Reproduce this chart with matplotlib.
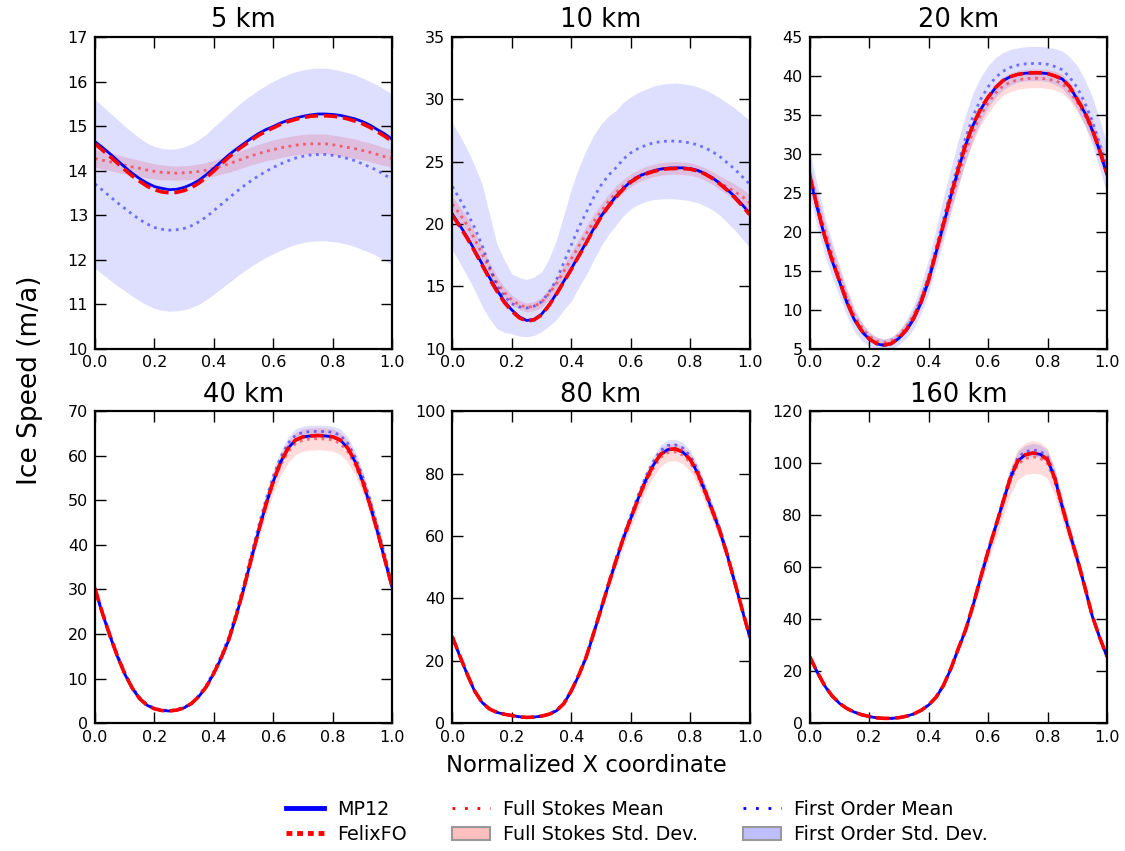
import numpy as np
import matplotlib.pyplot as plt
from matplotlib.lines import Line2D
from matplotlib.patches import Patch

x = [0.0, 0.025, 0.05, 0.075, 0.1, 0.125, 0.15, 0.175, 0.2, 0.225, 0.25,
     0.275, 0.3, 0.325, 0.35, 0.375, 0.4, 0.425, 0.45, 0.475, 0.5,
     0.525, 0.55, 0.575, 0.6, 0.625, 0.65, 0.675, 0.7, 0.725, 0.75,
     0.775, 0.8, 0.825, 0.85, 0.875, 0.9, 0.925, 0.95, 0.975, 1.0]

titles = ["5 km", "10 km", "20 km", "40 km", "80 km", "160 km"]

# 5 km
mp12_5 = [14.65, 14.52, 14.38, 14.23, 14.08, 13.94, 13.82, 13.72, 13.64, 13.6, 13.57,
          13.58, 13.62, 13.69, 13.78, 13.91, 14.05, 14.2, 14.35, 14.48, 14.6,
          14.72, 14.83, 14.92, 14.99, 15.07, 15.13, 15.18, 15.22, 15.25, 15.27,
          15.27, 15.26, 15.24, 15.2, 15.16, 15.1, 15.02, 14.92, 14.82, 14.7]
felix_5 = [14.6, 14.46, 14.32, 14.17, 14.02, 13.88, 13.76, 13.65, 13.57, 13.52, 13.5,
           13.51, 13.55, 13.62, 13.72, 13.85, 13.99, 14.15, 14.3, 14.44, 14.56,
           14.68, 14.79, 14.88, 14.96, 15.04, 15.1, 15.15, 15.19, 15.22, 15.23,
           15.23, 15.22, 15.2, 15.16, 15.11, 15.05, 14.97, 14.87, 14.77, 14.65]
fs_mean_5 = [14.27, 14.23, 14.2, 14.16, 14.12, 14.08, 14.05, 14.01, 13.98, 13.96, 13.95,
             13.94, 13.95, 13.96, 13.98, 14.01, 14.05, 14.1, 14.15, 14.21, 14.27,
             14.33, 14.38, 14.43, 14.47, 14.51, 14.54, 14.57, 14.59, 14.6, 14.6,
             14.6, 14.58, 14.55, 14.52, 14.49, 14.45, 14.41, 14.36, 14.31, 14.27]
fs_std_5 = [0.2, 0.2, 0.2, 0.2, 0.19, 0.19, 0.18, 0.18, 0.17, 0.17, 0.16,
            0.16, 0.16, 0.16, 0.17, 0.17, 0.18, 0.18, 0.19, 0.2, 0.2,
            0.2, 0.21, 0.21, 0.22, 0.22, 0.22, 0.22, 0.22, 0.22, 0.22,
            0.22, 0.22, 0.22, 0.22, 0.22, 0.21, 0.21, 0.21, 0.2, 0.2]
fo_mean_5 = [13.7, 13.56, 13.42, 13.28, 13.15, 13.02, 12.9, 12.8, 12.72, 12.68, 12.66,
             12.67, 12.7, 12.76, 12.85, 12.96, 13.1, 13.24, 13.38, 13.52, 13.65,
             13.77, 13.88, 13.98, 14.07, 14.15, 14.22, 14.28, 14.32, 14.35, 14.36,
             14.36, 14.34, 14.31, 14.27, 14.22, 14.15, 14.08, 14.0, 13.9, 13.8]
fo_std_5 = [1.9, 1.89, 1.88, 1.87, 1.85, 1.84, 1.83, 1.82, 1.82, 1.82, 1.82,
            1.82, 1.83, 1.84, 1.85, 1.86, 1.88, 1.89, 1.9, 1.91, 1.92,
            1.92, 1.93, 1.93, 1.94, 1.94, 1.94, 1.94, 1.94, 1.94, 1.94,
            1.94, 1.94, 1.93, 1.93, 1.93, 1.93, 1.92, 1.92, 1.92, 1.92]

# 10 km
mp12_10 = [20.8, 19.9, 18.95, 17.9, 16.8, 15.7, 14.7, 13.8, 13.1, 12.55, 12.25,
           12.35, 12.75, 13.5, 14.4, 15.4, 16.4, 17.45, 18.5, 19.6, 20.6,
           21.45, 22.2, 22.85, 23.4, 23.8, 24.05, 24.25, 24.4, 24.48, 24.5,
           24.5, 24.45, 24.3, 24.05, 23.7, 23.25, 22.75, 22.2, 21.55, 20.85]
felix_10 = [20.7, 19.8, 18.85, 17.8, 16.7, 15.6, 14.6, 13.7, 13.0, 12.47, 12.2,
            12.3, 12.7, 13.45, 14.35, 15.35, 16.35, 17.4, 18.45, 19.55, 20.55,
            21.4, 22.15, 22.8, 23.35, 23.75, 24.0, 24.2, 24.35, 24.43, 24.45,
            24.45, 24.4, 24.25, 24.0, 23.65, 23.2, 22.7, 22.1, 21.45, 20.75]
fs_mean_10 = [21.6, 20.8, 19.9, 18.8, 17.6, 16.4, 15.3, 14.5, 13.9, 13.5, 13.3,
              13.4, 13.7, 14.4, 15.2, 16.2, 17.2, 18.2, 19.2, 20.15, 21.0,
              21.8, 22.5, 23.05, 23.5, 23.85, 24.1, 24.28, 24.4, 24.47, 24.5,
              24.47, 24.4, 24.25, 24.0, 23.7, 23.3, 22.95, 22.6, 22.2, 21.7]
fs_std_10 = [0.6, 0.6, 0.6, 0.58, 0.55, 0.52, 0.5, 0.45, 0.4, 0.37, 0.35,
             0.37, 0.4, 0.45, 0.5, 0.52, 0.55, 0.58, 0.6, 0.6, 0.6,
             0.58, 0.55, 0.52, 0.5, 0.5, 0.5, 0.5, 0.5, 0.5, 0.5,
             0.5, 0.5, 0.5, 0.5, 0.52, 0.55, 0.58, 0.6, 0.62, 0.65]
fo_mean_10 = [23.0, 22.0, 20.9, 19.7, 18.3, 16.6, 15.0, 14.2, 13.6, 13.35, 13.25,
              13.4, 13.75, 14.5, 15.5, 16.9, 18.3, 19.7, 20.9, 22.1, 23.1,
              23.9, 24.5, 25.2, 25.7, 26.05, 26.3, 26.5, 26.6, 26.65, 26.65,
              26.6, 26.5, 26.35, 26.1, 25.8, 25.4, 24.9, 24.4, 23.8, 23.2]
fo_std_10 = [5.1, 5.1, 5.1, 5.0, 4.9, 4.2, 3.4, 2.9, 2.4, 2.35, 2.3,
             2.35, 2.4, 2.7, 3.2, 3.8, 4.5, 4.8, 5.0, 5.0, 4.9,
             4.75, 4.6, 4.55, 4.5, 4.5, 4.5, 4.55, 4.6, 4.62, 4.65,
             4.65, 4.65, 4.65, 4.65, 4.67, 4.7, 4.8, 4.9, 5.0, 5.1]

# 20 km
mp12_20 = [27.1, 23.1, 19.4, 16.3, 13.6, 10.9, 8.7, 7.2, 6.2, 5.6, 5.4,
           5.6, 6.3, 7.3, 8.8, 10.9, 13.7, 17.3, 20.9, 24.6, 28.0,
           31.2, 33.7, 35.7, 37.2, 38.5, 39.4, 39.9, 40.2, 40.35, 40.4,
           40.4, 40.3, 40.0, 39.6, 38.6, 37.0, 35.3, 33.1, 30.4, 27.3]
felix_20 = [27.2, 23.2, 19.5, 16.4, 13.7, 11.0, 8.8, 7.3, 6.25, 5.65, 5.45,
            5.65, 6.35, 7.4, 8.9, 11.0, 13.8, 17.4, 21.0, 24.7, 28.1,
            31.3, 33.8, 35.8, 37.3, 38.5, 39.4, 39.9, 40.2, 40.35, 40.4,
            40.4, 40.3, 40.0, 39.6, 38.6, 37.0, 35.4, 33.2, 30.5, 27.4]
fs_mean_20 = [27.6, 23.7, 20.2, 17.1, 14.3, 11.6, 9.2, 7.7, 6.6, 6.0, 5.8,
              6.0, 6.7, 7.8, 9.3, 11.5, 14.2, 17.4, 20.6, 24.0, 27.2,
              30.3, 32.9, 35.0, 36.5, 37.8, 38.7, 39.2, 39.5, 39.65, 39.7,
              39.7, 39.6, 39.4, 39.0, 38.0, 36.6, 35.0, 33.0, 30.6, 28.0]
fs_std_20 = [1.2, 1.15, 1.1, 1.0, 0.9, 0.8, 0.7, 0.6, 0.5, 0.45, 0.4,
             0.45, 0.5, 0.6, 0.7, 0.8, 0.9, 1.0, 1.1, 1.15, 1.2,
             1.25, 1.3, 1.3, 1.3, 1.25, 1.2, 1.2, 1.2, 1.2, 1.2,
             1.2, 1.2, 1.2, 1.2, 1.2, 1.2, 1.25, 1.3, 1.3, 1.3]
fo_mean_20 = [27.5, 23.4, 19.6, 16.5, 13.7, 11.0, 8.7, 7.2, 6.2, 5.7, 5.5,
              5.7, 6.4, 7.5, 9.1, 11.4, 14.3, 17.9, 21.6, 25.3, 28.8,
              32.1, 34.9, 37.0, 38.6, 39.8, 40.6, 41.1, 41.4, 41.55, 41.6,
              41.6, 41.5, 41.2, 40.8, 39.8, 38.5, 36.6, 34.3, 31.3, 28.0]
fo_std_20 = [2.9, 2.7, 2.5, 2.25, 2.0, 1.75, 1.5, 1.2, 0.9, 0.8, 0.7,
             0.8, 0.9, 1.2, 1.5, 1.85, 2.2, 2.5, 2.8, 2.9, 3.0,
             3.0, 3.0, 2.85, 2.7, 2.55, 2.4, 2.3, 2.2, 2.2, 2.2,
             2.2, 2.2, 2.3, 2.4, 2.6, 2.8, 2.95, 3.1, 3.15, 3.2]

# 40 km
mp12_40 = [30.0, 24.6, 19.6, 15.0, 11.0, 7.8, 5.5, 4.0, 3.2, 2.8, 2.7,
           2.9, 3.4, 4.4, 6.0, 8.2, 11.2, 14.6, 18.6, 24.0, 30.0,
           36.6, 43.0, 49.0, 54.3, 58.7, 61.8, 63.6, 64.3, 64.5, 64.6,
           64.5, 64.3, 63.6, 61.8, 58.7, 54.3, 49.0, 43.0, 36.6, 30.3]
felix_40 = [30.2, 24.7, 19.7, 15.1, 11.1, 7.9, 5.5, 4.0, 3.2, 2.8, 2.7,
            2.9, 3.4, 4.4, 6.0, 8.2, 11.2, 14.7, 18.7, 24.1, 30.1,
            36.7, 43.1, 49.1, 54.4, 58.7, 61.8, 63.6, 64.3, 64.5, 64.6,
            64.5, 64.3, 63.6, 61.8, 58.8, 54.4, 49.1, 43.1, 36.7, 30.5]
fs_mean_40 = [30.3, 24.9, 19.9, 15.3, 11.3, 8.0, 5.7, 4.1, 3.3, 2.9, 2.8,
              3.0, 3.5, 4.5, 6.2, 8.4, 11.5, 14.9, 18.9, 24.2, 30.2,
              36.6, 42.9, 48.7, 53.8, 58.0, 61.0, 62.8, 63.6, 63.8, 63.9,
              63.8, 63.6, 62.8, 61.0, 58.0, 53.8, 48.7, 42.9, 36.7, 30.5]
fs_std_40 = [1.0, 0.9, 0.8, 0.65, 0.5, 0.4, 0.3, 0.25, 0.2, 0.2, 0.2,
             0.2, 0.2, 0.25, 0.3, 0.4, 0.5, 0.65, 0.8, 1.0, 1.2,
             1.4, 1.6, 1.85, 2.1, 2.25, 2.4, 2.45, 2.5, 2.5, 2.5,
             2.5, 2.5, 2.45, 2.4, 2.25, 2.1, 1.85, 1.6, 1.35, 1.1]
fo_mean_40 = [30.4, 25.0, 20.0, 15.4, 11.4, 8.1, 5.8, 4.2, 3.3, 2.9, 2.8,
              3.0, 3.5, 4.5, 6.2, 8.5, 11.6, 15.2, 19.3, 24.8, 31.0,
              37.7, 44.2, 50.2, 55.5, 59.8, 62.9, 64.7, 65.3, 65.5, 65.5,
              65.5, 65.3, 64.7, 62.9, 59.8, 55.5, 50.2, 44.2, 37.7, 30.8]
fo_std_40 = [1.0, 0.9, 0.8, 0.65, 0.5, 0.4, 0.3, 0.25, 0.2, 0.2, 0.2,
             0.2, 0.2, 0.25, 0.3, 0.4, 0.5, 0.65, 0.8, 0.95, 1.1,
             1.2, 1.3, 1.35, 1.4, 1.4, 1.4, 1.4, 1.4, 1.4, 1.4,
             1.4, 1.4, 1.4, 1.4, 1.35, 1.3, 1.25, 1.2, 1.1, 1.0]

# 80 km
mp12_80 = [27.6, 21.5, 15.6, 10.2, 6.6, 4.5, 3.4, 2.8, 2.4, 2.0, 1.8,
           1.9, 2.2, 2.8, 3.9, 6.2, 10.2, 15.2, 21.0, 28.6, 36.4,
           44.3, 51.9, 59.2, 65.6, 72.0, 77.8, 82.6, 86.2, 87.8, 88.0,
           87.0, 84.6, 80.3, 74.3, 68.0, 61.5, 53.8, 45.0, 36.3, 27.7]
felix_80 = [27.7, 21.6, 15.7, 10.3, 6.6, 4.5, 3.4, 2.8, 2.4, 2.0, 1.8,
            1.9, 2.2, 2.8, 3.9, 6.2, 10.3, 15.3, 21.1, 28.7, 36.5,
            44.4, 52.0, 59.3, 65.7, 72.0, 77.8, 82.6, 86.2, 87.8, 88.0,
            87.0, 84.6, 80.3, 74.4, 68.1, 61.6, 53.9, 45.1, 36.4, 27.8]
fs_mean_80 = [27.8, 21.7, 15.8, 10.3, 6.7, 4.6, 3.5, 2.9, 2.4, 2.0, 1.8,
              1.9, 2.3, 2.9, 4.0, 6.4, 10.4, 15.4, 21.2, 28.7, 36.4,
              44.1, 51.6, 58.7, 65.0, 71.2, 76.9, 81.6, 85.2, 86.8, 87.0,
              86.0, 83.6, 79.4, 73.5, 67.4, 61.1, 53.5, 44.9, 36.3, 27.9]
fs_std_80 = [0.8, 0.65, 0.5, 0.4, 0.3, 0.25, 0.2, 0.15, 0.1, 0.1, 0.1,
             0.1, 0.1, 0.15, 0.2, 0.3, 0.4, 0.6, 0.8, 1.0, 1.3,
             1.55, 1.8, 2.05, 2.3, 2.45, 2.6, 2.7, 2.8, 2.8, 2.8,
             2.8, 2.8, 2.7, 2.6, 2.4, 2.2, 1.9, 1.6, 1.25, 0.9]
fo_mean_80 = [27.8, 21.7, 15.8, 10.3, 6.7, 4.6, 3.5, 2.9, 2.4, 2.0, 1.8,
              1.9, 2.3, 2.9, 4.1, 6.4, 10.5, 15.6, 21.4, 29.1, 37.1,
              45.0, 52.7, 60.0, 66.6, 73.1, 79.0, 83.8, 87.5, 89.1, 89.3,
              88.3, 85.8, 81.4, 75.3, 68.9, 62.3, 54.5, 45.6, 36.7, 28.0]
fo_std_80 = [0.6, 0.5, 0.4, 0.3, 0.2, 0.15, 0.1, 0.1, 0.1, 0.1, 0.1,
             0.1, 0.1, 0.1, 0.1, 0.2, 0.3, 0.45, 0.6, 0.75, 0.9,
             1.05, 1.2, 1.35, 1.5, 1.6, 1.7, 1.75, 1.8, 1.8, 1.8,
             1.8, 1.8, 1.75, 1.7, 1.55, 1.4, 1.2, 1.0, 0.8, 0.6]

# 160 km
mp12_160 = [25.5, 19.6, 14.4, 10.4, 7.6, 5.6, 4.2, 3.2, 2.5, 2.0, 1.8,
            1.8, 2.05, 2.6, 3.5, 4.9, 6.9, 9.9, 14.4, 20.9, 28.6,
            36.0, 45.5, 56.0, 66.0, 75.5, 85.0, 94.4, 101.0, 103.3, 104.0,
            103.5, 101.5, 94.0, 83.0, 72.9, 63.1, 52.5, 41.3, 33.0, 25.5]
felix_160 = [25.6, 19.7, 14.5, 10.5, 7.6, 5.6, 4.2, 3.2, 2.5, 2.0, 1.8,
             1.8, 2.05, 2.6, 3.5, 4.9, 6.9, 9.9, 14.5, 21.0, 28.7,
             36.1, 45.6, 56.1, 66.1, 75.5, 85.0, 94.4, 101.0, 103.3, 104.0,
             103.5, 101.5, 94.0, 83.1, 73.0, 63.2, 52.6, 41.4, 33.1, 25.6]
fs_mean_160 = [25.6, 19.7, 14.5, 10.5, 7.7, 5.6, 4.2, 3.2, 2.5, 2.0, 1.8,
               1.8, 2.05, 2.6, 3.5, 4.9, 7.0, 10.0, 14.5, 21.0, 28.6,
               35.9, 45.3, 55.6, 65.5, 74.8, 84.2, 93.3, 99.6, 101.8, 102.5,
               102.0, 100.0, 92.8, 82.2, 72.3, 62.7, 52.3, 41.2, 33.0, 25.6]
fs_std_160 = [0.8, 0.6, 0.4, 0.3, 0.2, 0.15, 0.1, 0.1, 0.1, 0.1, 0.1,
              0.1, 0.1, 0.1, 0.1, 0.15, 0.2, 0.35, 0.5, 0.8, 1.2,
              1.7, 2.2, 2.8, 3.4, 4.0, 4.6, 5.2, 5.8, 6.1, 6.3,
              6.1, 5.8, 5.2, 4.5, 3.8, 3.2, 2.5, 1.8, 1.3, 0.9]
fo_mean_160 = [25.6, 19.7, 14.5, 10.5, 7.7, 5.6, 4.2, 3.2, 2.5, 2.0, 1.8,
               1.8, 2.05, 2.6, 3.5, 4.9, 7.0, 10.0, 14.6, 21.2, 28.9,
               36.4, 46.0, 56.5, 66.6, 76.2, 85.8, 95.4, 102.2, 104.5, 105.2,
               104.7, 102.6, 95.0, 83.8, 73.6, 63.6, 53.0, 41.6, 33.2, 25.7]
fo_std_160 = [0.6, 0.45, 0.3, 0.2, 0.1, 0.1, 0.1, 0.1, 0.1, 0.1, 0.1,
              0.1, 0.1, 0.1, 0.1, 0.1, 0.2, 0.3, 0.4, 0.6, 0.8,
              1.0, 1.2, 1.4, 1.6, 1.8, 2.0, 2.2, 2.4, 2.45, 2.5,
              2.45, 2.4, 2.2, 2.0, 1.8, 1.6, 1.35, 1.1, 0.85, 0.6]

mp12 = [mp12_5, mp12_10, mp12_20, mp12_40, mp12_80, mp12_160]
felix = [felix_5, felix_10, felix_20, felix_40, felix_80, felix_160]
fs_mean = [fs_mean_5, fs_mean_10, fs_mean_20, fs_mean_40, fs_mean_80, fs_mean_160]
fs_std = [fs_std_5, fs_std_10, fs_std_20, fs_std_40, fs_std_80, fs_std_160]
fo_mean = [fo_mean_5, fo_mean_10, fo_mean_20, fo_mean_40, fo_mean_80, fo_mean_160]
fo_std = [fo_std_5, fo_std_10, fo_std_20, fo_std_40, fo_std_80, fo_std_160]

ylims = [(10, 17), (10, 35), (5, 45), (0, 70), (0, 100), (0, 120)]
ysteps = [1, 5, 5, 10, 20, 20]

fig, axes = plt.subplots(2, 3, figsize=(11.25, 8.51), dpi=100)
fig.subplots_adjust(left=0.0844, right=0.984, top=0.9565, bottom=0.1504,
                    wspace=0.202, hspace=0.202)

for i, ax in enumerate(axes.flat):
    m = np.array(fs_mean[i])
    s = np.array(fs_std[i])
    ax.fill_between(x, m - s, m + s, color=(1, 0, 0), alpha=0.14, lw=0)
    m = np.array(fo_mean[i])
    s = np.array(fo_std[i])
    ax.fill_between(x, m - s, m + s, color=(0, 0, 1), alpha=0.13, lw=0)
    ax.plot(x, fs_mean[i], ':', color='red', lw=2, alpha=0.5)
    ax.plot(x, fo_mean[i], ':', color='blue', lw=2, alpha=0.5)
    ax.plot(x, mp12[i], '-', color='blue', lw=2)
    ax.plot(x, felix[i], '--', color='red', lw=2.6)

    ax.set_xlim(0, 1)
    ax.set_ylim(*ylims[i])
    ax.set_xticks([0.0, 0.2, 0.4, 0.6, 0.8, 1.0])
    ax.set_xticklabels(["0.0", "0.2", "0.4", "0.6", "0.8", "1.0"])
    ax.set_yticks(np.arange(ylims[i][0], ylims[i][1] + 0.001, ysteps[i]))
    ax.tick_params(direction='in', top=True, right=True, length=8, width=1,
                   labelsize=11.5, pad=5)
    for sp in ax.spines.values():
        sp.set_linewidth(1.6)
    ax.set_title(titles[i], fontsize=18.5, pad=7)

fig.text(30 / 1125, 1 - 380 / 851, "Ice Speed (m/a)", rotation=90,
         fontsize=19, ha='center', va='center')
fig.text(586 / 1125, 1 - 766 / 851, "Normalized X coordinate",
         fontsize=16.4, ha='center', va='center')

handles = [
    Line2D([], [], color='blue', lw=3.5),
    Line2D([], [], color='red', lw=3.5, ls=(0, (1.2, 1.0))),
    Line2D([], [], color='red', lw=2, ls=(0, (1, 3.5))),
    Patch(facecolor=(1, 0, 0, 0.25), edgecolor='0.6', lw=1.5),
    Line2D([], [], color='blue', lw=2, ls=(0, (1, 3.5))),
    Patch(facecolor=(0, 0, 1, 0.25), edgecolor='0.6', lw=1.5),
]
labels = ["MP12", "FelixFO", "Full Stokes Mean", "Full Stokes Std. Dev.",
          "First Order Mean", "First Order Std. Dev."]
fig.legend(handles, labels, ncol=3, loc='center',
           bbox_to_anchor=(637 / 1125, 1 - 822 / 851), frameon=False,
           fontsize=13.75, handlelength=2.0, handletextpad=0.7,
           columnspacing=2.32, labelspacing=0.33)

fig.savefig("out.png", dpi=100)
